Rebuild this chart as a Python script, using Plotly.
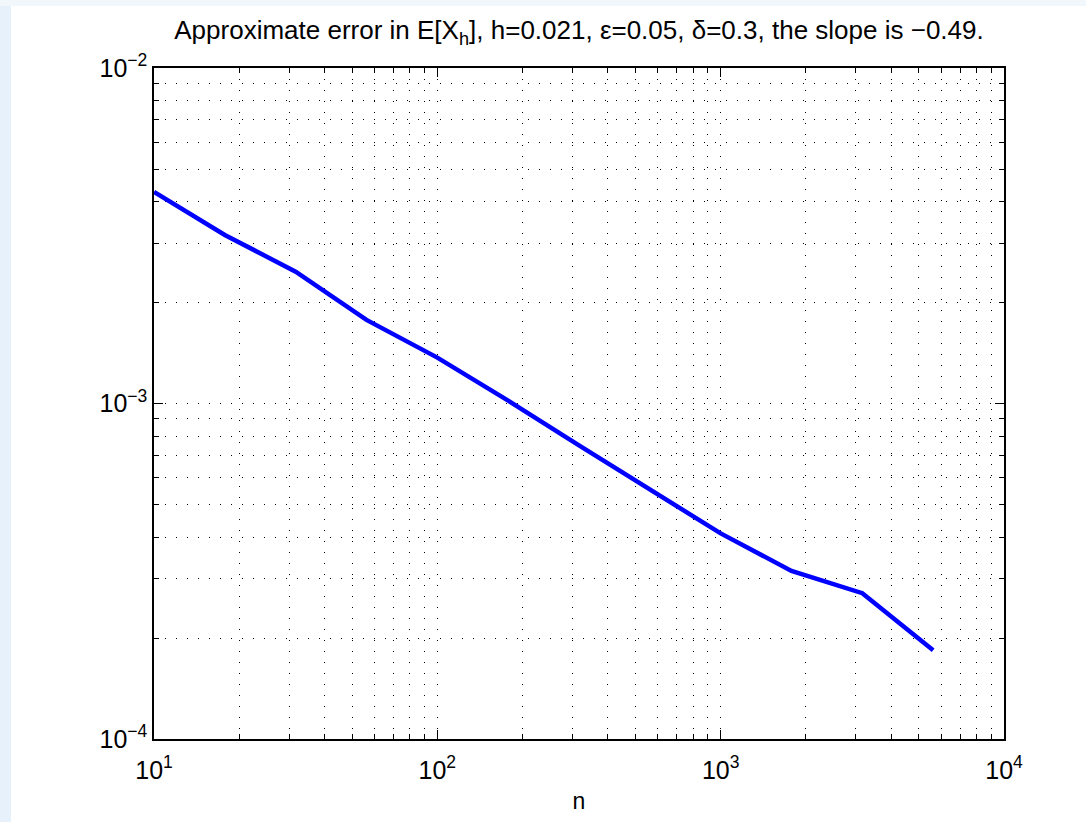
import plotly.graph_objects as go

# sample sizes and the measured error in E[X_h]
n_values = [10, 17.78, 31.62, 56.23, 100, 177.8, 316.2, 562.3, 1000, 1778, 3162, 5623]
error_values = [4.27e-3, 3.18e-3, 2.47e-3, 1.775e-3, 1.37e-3, 1.02e-3,
                7.5e-4, 5.56e-4, 4.10e-4, 3.17e-4, 2.72e-4, 1.84e-4]

x_tick_vals = [10, 100, 1000, 10000]
x_tick_text = ["10<sup>1</sup>", "10<sup>2</sup>", "10<sup>3</sup>", "10<sup>4</sup>"]
y_tick_vals = [1e-4, 1e-3, 1e-2]
y_tick_text = ["10<sup>\u22124</sup>", "10<sup>\u22123</sup>", "10<sup>\u22122</sup>"]

x_minor = [m * 10 ** k for k in (1, 2, 3) for m in range(2, 10)]
y_minor = [m * 10 ** k for k in (-4, -3) for m in range(2, 10)]

title_text = ("Approximate error in E[X<sub>h</sub>], h=0.021, \u03b5=0.05, "
              "\u03b4=0.3, the slope is \u22120.49.")

W, H = 1086, 822
ML, MR, MT, MB = 154, 82, 68, 83
PW, PH = W - ML - MR, H - MT - MB

def px_to_paper_x(px):
    return (px - ML) / PW

def px_to_paper_y(py):
    return (H - MB - py) / PH

FONT = "Liberation Sans, Arial, Helvetica, sans-serif"

fig = go.Figure()
fig.add_trace(go.Scatter(
    x=n_values, y=error_values, mode="lines",
    line=dict(color="#0000ff", width=4.5),
    showlegend=False, hoverinfo="skip",
))

axis_common = dict(
    type="log",
    showline=True, linecolor="black", linewidth=1.5,
    mirror="allticks",
    ticks="inside", ticklen=9, tickwidth=1, tickcolor="black",
    showgrid=True, gridcolor="black", gridwidth=1, griddash="1px,10px",
    zeroline=False,
    tickfont=dict(family=FONT, size=25, color="black"),
)

fig.update_xaxes(
    **axis_common,
    range=[1, 4],
    tickmode="array", tickvals=x_tick_vals, ticktext=x_tick_text,
    ticklabelstandoff=8,
    minor=dict(tickmode="array", tickvals=x_minor, ticks="inside", ticklen=5,
               tickcolor="black", showgrid=True, gridcolor="black",
               gridwidth=1, griddash="1px,10px"),
    title=dict(text="n", font=dict(family=FONT, size=23, color="black"), standoff=10),
)
fig.update_yaxes(
    **axis_common,
    range=[-4, -2],
    tickmode="array", tickvals=y_tick_vals, ticktext=y_tick_text,
    minor=dict(tickmode="array", tickvals=y_minor, ticks="inside", ticklen=5,
               tickcolor="black", showgrid=True, gridcolor="black",
               gridwidth=1, griddash="1px,10px"),
)

# light blue frame around the white figure panel
fig.add_shape(type="rect", xref="paper", yref="paper", layer="below",
              x0=px_to_paper_x(0), x1=px_to_paper_x(W),
              y0=px_to_paper_y(H), y1=px_to_paper_y(0),
              fillcolor="#f2f7fc", line=dict(width=0))
fig.add_shape(type="rect", xref="paper", yref="paper", layer="below",
              x0=px_to_paper_x(0), x1=px_to_paper_x(11),
              y0=px_to_paper_y(H), y1=px_to_paper_y(6),
              fillcolor="#e6f1fc", line=dict(width=0))
fig.add_shape(type="rect", xref="paper", yref="paper", layer="below",
              x0=px_to_paper_x(11), x1=px_to_paper_x(W),
              y0=px_to_paper_y(H), y1=px_to_paper_y(6),
              fillcolor="white", line=dict(width=0))

fig.update_layout(
    width=W, height=H,
    margin=dict(l=ML, r=MR, t=MT, b=MB),
    paper_bgcolor="white", plot_bgcolor="white",
    title=dict(text=title_text, x=(ML + PW / 2) / W, xanchor="center",
               y=1 - 30 / H, yanchor="middle",
               font=dict(family=FONT, size=26, color="black")),
    font=dict(family=FONT, color="black"),
)

fig.write_html("out.html")
